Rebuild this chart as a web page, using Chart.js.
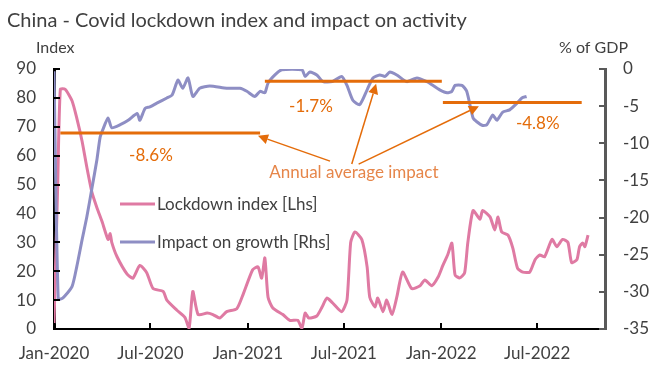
<!DOCTYPE html>
<html>
<head>
<meta charset="utf-8">
<script src="https://cdn.jsdelivr.net/npm/chart.js@4.4.1/dist/chart.umd.min.js"></script>
<style>
  html, body { margin: 0; padding: 0; background: #ffffff; }
  #wrap { width: 655px; height: 367px; }
</style>
</head>
<body>
<div id="wrap"><canvas id="chartCovid" width="655" height="367"></canvas></div>
<script>
// x = days since 1 Jan 2020
const tickDays = [0, 182, 366, 547, 731, 912];
const tickLabels = ['Jan-2020', 'Jul-2020', 'Jan-2021', 'Jul-2021', 'Jan-2022', 'Jul-2022'];

// Lockdown index [Lhs]
const lockDays = [0, 7, 12, 21, 34, 43, 53, 62, 72, 81, 91, 102, 106, 109, 119, 138, 149, 162, 175, 187,
  206, 213, 232, 247, 255, 262, 272, 289, 300, 313, 326, 345, 357, 375, 385, 392, 398, 404, 413, 432,
  445, 460, 468, 474, 481, 496, 506, 515, 526, 543, 553, 560, 568, 581, 591, 596, 606, 611, 621, 628,
  638, 647, 658, 675, 691, 700, 713, 725, 734, 743, 751, 757, 766, 775, 781, 791, 804, 809, 823, 832,
  838, 845, 857, 866, 875, 885, 898, 908, 917, 926, 940, 949, 960, 970, 977, 987, 992, 998, 1002, 1008];
const lockIndex = [2, 50, 83, 83, 79, 73, 65, 56, 47, 42, 37, 31, 33, 30, 25, 19, 17.6, 22, 19.5, 14,
  13, 10, 6.5, 4, 0.3, 13, 5, 5.5, 5, 3.8, 6, 7, 12, 20.5, 21.5, 17.6, 24.6, 11, 7.3, 5,
  3, 3, 0.3, 5.5, 3.8, 4.5, 7.6, 10.7, 9, 6, 10, 30, 33.6, 31, 21.5, 11, 7.6, 10.7, 6, 10,
  5, 11, 19.7, 14, 15, 17, 15, 18, 22, 25.6, 29.7, 18.7, 17.7, 19.4, 29.8, 41, 38, 41, 38.8, 34.3,
  38.8, 33.6, 32.5, 28, 21, 19.7, 19.7, 24, 25.6, 25, 31, 28.5, 31, 30, 23, 24, 28.5, 29.8, 28.5, 32.5];

// Impact on growth [Rhs], % of GDP
const impactDays = [0, 8, 17, 34, 43, 53, 62, 72, 81, 87, 92, 102, 109, 125, 140, 157, 162, 172, 181, 194,
  213, 223, 234, 243, 253, 262, 275, 294, 326, 351, 364, 379, 389, 398, 404, 417, 430, 468, 474, 483,
  496, 508, 525, 543, 553, 564, 577, 591, 602, 615, 625, 634, 647, 666, 685, 704, 715, 728, 742, 751,
  757, 770, 779, 791, 798, 809, 817, 828, 836, 847, 860, 874, 883, 892];
const impactGdp = [-0.3, -31, -30.8, -29.3, -26.6, -23, -19.9, -15.9, -12.2, -9.2, -8.2, -6.6, -7.9, -7.5, -6.9, -6, -6.9, -5.3, -5.1, -4.6,
  -3.9, -3.5, -1.5, -2.6, -1.2, -3.7, -2.6, -2.3, -2.6, -2.6, -3, -3.7, -3, -3.2, -1.9, -0.8, -0.1, -0.1, -1, -0.4,
  -0.8, -1.7, -1.7, -1, -2.2, -4.2, -4.8, -2.8, -1.2, -0.8, -1, -0.4, -0.8, -1.7, -1.2, -1.7, -2.2, -2.8, -3.2, -3,
  -2.2, -2.2, -3, -6.6, -7.1, -7.6, -7.5, -6.2, -6.9, -5.8, -5.5, -4.6, -3.9, -3.7];

// Annual average impact (start day, end day, level)
const avgYears = ['2020', '2021', '2022'];
const avgStart = [12, 398, 734];
const avgEnd = [389, 732, 996];
const avgLevel = [-8.6, -1.65, -4.5];
const avgLabels = ['-8.6%', '-1.7%', '-4.8%'];

const FONT = 'Lato, "Open Sans", sans-serif';
const TXT = '#404040';
const ORANGE = '#e46c0a';

const toPts = (xs, ys) => xs.map((x, i) => ({ x, y: ys[i] }));

const avgSets = avgYears.map((yr, i) => ({
  label: 'Average ' + yr,
  data: [{ x: avgStart[i], y: avgLevel[i] }, { x: avgEnd[i], y: avgLevel[i] }],
  yAxisID: 'y1',
  borderColor: ORANGE,
  borderWidth: 3,
  pointRadius: 0,
  order: 0,
}));

// tick marks pointing inward + all the free text (title, units, legend, notes)
const decorPlugin = {
  id: 'covidDecor',
  afterDraw(chart) {
    const { ctx, chartArea: a, scales } = chart;
    const xs = scales.x, yl = scales.y, yr = scales.y1;
    ctx.save();
    ctx.lineWidth = 2;
    ctx.strokeStyle = '#000000';
    tickDays.forEach((d) => {
      const px = Math.round(xs.getPixelForValue(d));
      ctx.beginPath(); ctx.moveTo(px, a.bottom); ctx.lineTo(px, a.bottom - 6); ctx.stroke();
    });
    yl.ticks.forEach((t) => {
      const py = Math.round(yl.getPixelForValue(t.value));
      ctx.beginPath(); ctx.moveTo(a.left, py); ctx.lineTo(a.left + 6, py); ctx.stroke();
    });
    ctx.strokeStyle = '#595959';
    yr.ticks.forEach((t) => {
      const py = Math.round(yr.getPixelForValue(t.value));
      ctx.beginPath(); ctx.moveTo(a.right, py); ctx.lineTo(a.right - 6, py); ctx.stroke();
    });

    // title and axis units
    ctx.fillStyle = TXT;
    ctx.textBaseline = 'alphabetic';
    ctx.textAlign = 'left';
    ctx.font = '400 20px ' + FONT;
    ctx.fillText('China - Covid lockdown index and impact on activity', 7, 27);
    ctx.font = '400 16px ' + FONT;
    ctx.fillText('Index', 36, 53);
    ctx.textAlign = 'right';
    ctx.fillText('% of GDP', 628, 53);

    // legend
    const legend = [['Lockdown index [Lhs]', chart.data.datasets[3].borderColor, 204],
                    ['Impact on growth [Rhs]', chart.data.datasets[4].borderColor, 242]];
    ctx.textAlign = 'left';
    ctx.textBaseline = 'middle';
    ctx.font = '400 17px ' + FONT;
    legend.forEach(([txt, col, y]) => {
      ctx.strokeStyle = col; ctx.lineWidth = 3;
      ctx.beginPath(); ctx.moveTo(120, y); ctx.lineTo(155, y); ctx.stroke();
      ctx.fillStyle = TXT;
      ctx.fillText(txt, 157, y + 1);
    });

    // annual-average notes, anchored in data units (days, % of GDP)
    const P = (d, v) => [xs.getPixelForValue(d), yr.getPixelForValue(v)];
    ctx.textAlign = 'center';
    ctx.fillStyle = ORANGE;
    ctx.font = '400 17px ' + FONT;
    const labelAt = [[183, -11.6], [485, -5.1], [913, -7.3]];
    avgLabels.forEach((txt, i) => {
      const [px, py] = P(labelAt[i][0], labelAt[i][1]);
      ctx.fillText(txt, px, py);
    });
    ctx.fillStyle = '#e6864a';
    const [nx, ny] = P(566, -14.0);
    ctx.fillText('Annual average impact', nx, ny);

    const arrows = [[[521, -12.4], [385, -9.0]], [[562, -12.8], [608, -2.0]], [[575, -12.8], [802, -5.0]]];
    ctx.strokeStyle = ORANGE;
    ctx.fillStyle = ORANGE;
    ctx.lineWidth = 1.5;
    arrows.forEach(([from, to]) => {
      const [x0, y0] = P(from[0], from[1]);
      const [x1, y1] = P(to[0], to[1]);
      const ang = Math.atan2(y1 - y0, x1 - x0);
      const hl = 10, hw = 5;
      const bx = x1 - hl * Math.cos(ang), by = y1 - hl * Math.sin(ang);
      ctx.beginPath(); ctx.moveTo(x0, y0); ctx.lineTo(bx, by); ctx.stroke();
      ctx.beginPath();
      ctx.moveTo(x1, y1);
      ctx.lineTo(bx + hw * Math.sin(ang), by - hw * Math.cos(ang));
      ctx.lineTo(bx - hw * Math.sin(ang), by + hw * Math.cos(ang));
      ctx.closePath(); ctx.fill();
    });
    ctx.restore();
  },
};

new Chart(document.getElementById('chartCovid'), {
  type: 'line',
  data: {
    datasets: [
      ...avgSets,
      {
        label: 'Lockdown index [Lhs]',
        data: toPts(lockDays, lockIndex),
        yAxisID: 'y',
        borderColor: '#df7aa3',
        borderWidth: 3,
        pointRadius: 0,
        tension: 0.2,
        order: 2,
      },
      {
        label: 'Impact on growth [Rhs]',
        data: toPts(impactDays, impactGdp),
        yAxisID: 'y1',
        borderColor: '#8e8ec4',
        borderWidth: 3,
        pointRadius: 0,
        tension: 0.2,
        order: 1,
      },
    ],
  },
  options: {
    responsive: false,
    animation: false,
    layout: { padding: { top: 69, left: 0, right: 0, bottom: 0 } },
    plugins: { legend: { display: false }, tooltip: { enabled: false }, title: { display: false } },
    scales: {
      x: {
        type: 'linear',
        min: 0,
        max: 1040,
        afterBuildTicks: (s) => { s.ticks = tickDays.map((v) => ({ value: v })); },
        afterFit: (s) => { s.height = 38; },
        grid: { display: false, drawTicks: false },
        border: { display: true, color: '#000000', width: 2 },
        ticks: {
          autoSkip: false,
          maxRotation: 0,
          padding: 14,
          color: TXT,
          font: { family: FONT, size: 17 },
          callback: (v, i) => tickLabels[i],
        },
      },
      y: {
        position: 'left',
        min: 0,
        max: 90,
        afterFit: (s) => { s.width = 54; },
        grid: { display: false, drawTicks: false },
        border: { display: true, color: '#000000', width: 3 },
        ticks: { stepSize: 10, padding: 18, color: TXT, font: { family: FONT, size: 17 } },
      },
      y1: {
        position: 'right',
        min: -35,
        max: 0,
        afterFit: (s) => { s.width = 50; },
        grid: { display: false, drawTicks: false },
        border: { display: true, color: '#595959', width: 3 },
        ticks: { stepSize: 5, padding: 18, color: TXT, font: { family: FONT, size: 17 } },
      },
    },
  },
  plugins: [decorPlugin],
});
</script>
</body>
</html>
